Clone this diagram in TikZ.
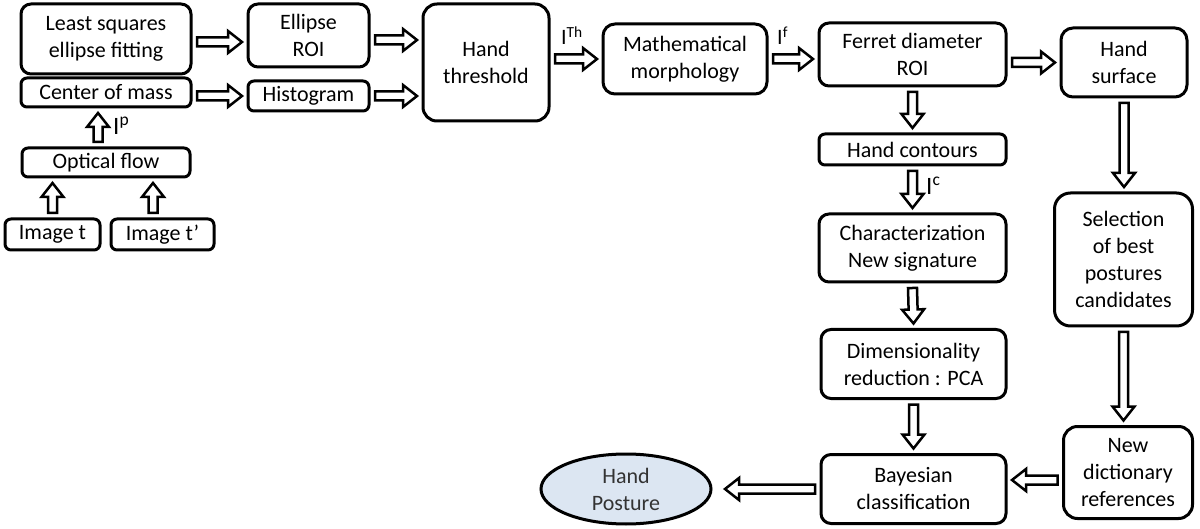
\documentclass[tikz,border=0pt]{standalone}
\usepackage{fontspec}
\setmainfont{Carlito}
\usetikzlibrary{calc,shapes.geometric}
\definecolor{postfill}{HTML}{DCE6F2}
\definecolor{posttext}{HTML}{333333}
\tikzset{
  box/.style={draw, line width=3pt, rounded corners=#1, align=center, inner sep=0pt, outer sep=6pt,
    font=\fontsize{22}{27}\selectfont},
  box/.default=10pt,
  arrowshape/.style={draw, line width=2.5pt, fill=white, line join=miter},
  lbl/.style={inner sep=0pt, anchor=base west, font=\fontsize{22}{27}\selectfont},
  biglbl/.style={inner sep=0pt, anchor=base west, font=\fontsize{25}{30}\selectfont}
}
\newcommand\barrow[2]{%
  \path (#1) coordinate (bA) (#2) coordinate (bB);
  \draw[arrowshape] ($(bA)!4.5pt!90:(bB)$) -- ($(bB)!14pt!(bA)!4.5pt!90:(bB)$)
    -- ($(bB)!14pt!(bA)!11pt!90:(bB)$) -- (bB) -- ($(bB)!14pt!(bA)!11pt!-90:(bB)$)
    -- ($(bB)!14pt!(bA)!4.5pt!-90:(bB)$) -- ($(bA)!4.5pt!-90:(bB)$) -- cycle;}
\begin{document}
\begin{tikzpicture}[x=1pt, y=-1pt]
\useasboundingbox (0,0) rectangle (1200,529);
% left part
\node[box] (lsq) at (106,39) [minimum width=170pt, minimum height=70pt] {Least squares\\ellipse fitting};
\node[box=6pt] (com) at (106,92.5) [minimum width=170pt, minimum height=29pt] {Center of mass};
\node[box=6pt] (opt) at (106,162.5) [minimum width=168pt, minimum height=29pt] {Optical flow};
\node[box=6pt] (imt) at (52.5,234.5) [minimum width=95pt, minimum height=31pt] {Image t};
\node[box=6pt] (imt2) at (162.5,234.5) [minimum width=103pt, minimum height=31pt] {Image t’};
\node[box] (eroi) at (308.5,35.5) [minimum width=121pt, minimum height=63pt] {Ellipse\\ROI};
\node[box=6pt] (hist) at (308.5,96) [minimum width=121pt, minimum height=30pt] {Histogram};
\node[box=14pt] (thr) at (486,62.5) [minimum width=126pt, minimum height=117pt] {Hand\\threshold};
\node[box=12pt] (morph) at (685,59) [minimum width=164pt, minimum height=70pt] {Mathematical\\morphology};
\node[box] (fer) at (912.5,54.5) [minimum width=187pt, minimum height=63pt] {Ferret diameter\\ROI};
\node[box=12pt] (hsurf) at (1124,62.5) [minimum width=126pt, minimum height=69pt] {Hand\\surface};
\node[box=6pt] (hcont) at (912.5,149.5) [minimum width=187pt, minimum height=31pt] {Hand contours};
\node[box] (char) at (912.5,248) [minimum width=187pt, minimum height=68pt] {Characterization\\New signature};
\node[box=16pt] (sel) at (1123.5,259.5) [minimum width=138pt, minimum height=133pt] {Selection\\of best\\postures\\candidates};
\node[box] (dim) at (913.5,364) [minimum width=185pt, minimum height=69pt] {Dimensionality\\reduction : PCA};
\node[box] (bay) at (913.5,489) [minimum width=185pt, minimum height=69pt] {Bayesian\\classification};
\node[box=14pt] (dict) at (1128,472.5) [minimum width=129pt, minimum height=92pt] {New\\dictionary\\references};
\node[ellipse, draw, line width=3pt, fill=postfill, text=posttext, align=center, inner sep=0pt, outer sep=6pt,
  minimum width=170pt, minimum height=70pt, font=\fontsize{22}{27}\selectfont] (post) at (626,489) {Hand\\Posture};
% helper coordinates
\coordinate (t1) at ([xshift=-8pt]opt.north);
\coordinate (t2) at ([xshift=-9.5pt]imt2.north);
% arrows
\barrow{imt.north}{imt.north |- opt.south}
\barrow{t2}{t2 |- opt.south}
\barrow{t1}{t1 |- com.south}
\barrow{[yshift=-3pt]lsq.east}{[yshift=-3pt]lsq.east -| eroi.west}
\barrow{hist.west -| com.east}{hist.west}
\barrow{[yshift=-4.5pt]eroi.east}{[yshift=-4.5pt]eroi.east -| thr.west}
\barrow{hist.east}{hist.east -| thr.west}
\barrow{morph.west -| thr.east}{morph.west}
\barrow{morph.east}{morph.east -| fer.west}
\barrow{hsurf.west -| fer.east}{hsurf.west}
\barrow{fer.south}{hcont.north}
\barrow{hcont.south}{char.north}
\barrow{char.south}{dim.north}
\barrow{dim.south}{bay.north}
\barrow{hsurf.south}{hsurf.south |- sel.north}
\barrow{sel.south}{sel.south |- dict.north}
\barrow{[yshift=-7.5pt]dict.west}{[yshift=-7.5pt]dict.west -| bay.east}
\barrow{bay.west}{[xshift=8pt]post.east}
% labels
\node[lbl] (lTh) at (561,45) {I\textsuperscript{Th}};
\node[lbl] (lf) at (777,45) {I\textsuperscript{f}};
\node[biglbl] (lp) at (113,135) {I\textsuperscript{p}};
\node[biglbl] (lc) at (926,195) {I\textsuperscript{c}};
\end{tikzpicture}
\end{document}
